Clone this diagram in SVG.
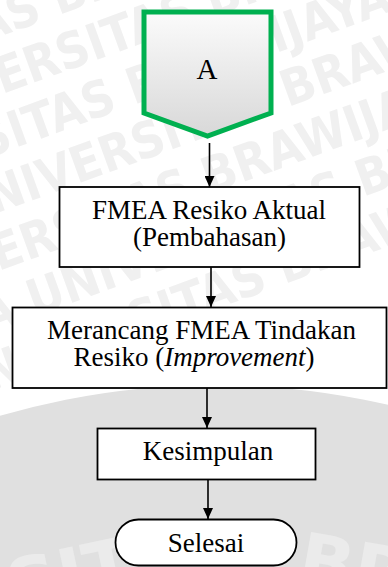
<svg xmlns="http://www.w3.org/2000/svg" width="388" height="567" viewBox="0 0 388 567">
  <defs>
    <linearGradient id="pentFill" x1="0" y1="0" x2="0" y2="1">
      <stop offset="0" stop-color="#fbfbfb"/>
      <stop offset="1" stop-color="#d8d8d8"/>
    </linearGradient>
    <marker id="arrowHead" viewBox="0 0 11 10" refX="11" refY="5" markerWidth="11" markerHeight="10" markerUnits="userSpaceOnUse" orient="auto">
      <path d="M0,0 L11,5 L0,10 z" fill="#000"/>
    </marker>
  </defs>
  <style>
    .box { fill: #ffffff; stroke: #000000; stroke-width: 1.8; }
    .lbl { font-family: "Liberation Serif", "Times New Roman", serif; font-size: 27px; fill: #000000; text-anchor: middle; }
    .conn { stroke: #000000; stroke-width: 1.6; fill: none; marker-end: url(#arrowHead); }
    .wm { font-family: "DejaVu Sans", sans-serif; font-weight: bold; font-stretch: condensed; font-size: 50px; fill: #f0f0f0; }
    .wm2 { font-family: "DejaVu Sans", sans-serif; font-weight: bold; font-size: 72px; fill: #ebebeb; }
  </style>

  <!-- page background with the faint university watermark -->
  <rect x="0" y="0" width="388" height="567" fill="#ffffff"/>
  <g id="watermark">
    <circle cx="215" cy="1150" r="765" fill="#e0e0e0"/>
    <g transform="rotate(-20 194 200)">
      <text class="wm" x="-220" y="-20">UNIVERSITAS BRAWIJAYA UNIVERSITAS</text>
      <text class="wm" x="-300" y="35">AWIJAYA UNIVERSITAS BRAWIJAYA UNI</text>
      <text class="wm" x="-180" y="90">UNIVERSITAS BRAWIJAYA UNIVERSITAS</text>
      <text class="wm" x="-260" y="145">AWIJAYA UNIVERSITAS BRAWIJAYA UNI</text>
      <text class="wm" x="-140" y="200">UNIVERSITAS BRAWIJAYA UNIVERSITAS</text>
      <text class="wm" x="-220" y="255">AWIJAYA UNIVERSITAS BRAWIJAYA UNI</text>
      <text class="wm" x="-100" y="310">UNIVERSITAS BRAWIJAYA UNIVERSITAS</text>
    </g>
    <text class="wm2" x="5" y="600" transform="rotate(-12 70 570)">SIT</text>
    <text class="wm2" x="300" y="590" transform="rotate(10 340 560)">BR</text>
  </g>

  <!-- connectors -->
  <g id="connectors">
    <line class="conn" x1="209.5" y1="143" x2="209.5" y2="187"/>
    <line class="conn" x1="211" y1="267" x2="211" y2="307"/>
    <line class="conn" x1="207" y1="388" x2="207" y2="428"/>
    <line class="conn" x1="208" y1="479" x2="208" y2="519"/>
  </g>

  <!-- off-page connector A -->
  <g id="node-a">
    <polygon points="144,12 271,12 271,113 207.5,136 144,113" fill="url(#pentFill)" stroke="#00b050" stroke-width="5" stroke-linejoin="miter"/>
    <text class="lbl" x="207" y="79" style="font-size:29px">A</text>
  </g>

  <g id="node-fmea-aktual">
    <rect class="box" x="59.5" y="187" width="300" height="80"/>
    <text class="lbl" x="209" y="218.5">FMEA Resiko Aktual</text>
    <text class="lbl" x="209.5" y="245.5">(Pembahasan)</text>
  </g>

  <g id="node-fmea-tindakan">
    <rect class="box" x="12.5" y="307.5" width="374" height="80.5"/>
    <text class="lbl" x="201.5" y="338.5">Merancang FMEA Tindakan</text>
    <text class="lbl" x="194" y="365.5">Resiko (<tspan font-style="italic">Improvement</tspan>)</text>
  </g>

  <g id="node-kesimpulan">
    <rect class="box" x="97.5" y="428.5" width="218" height="51"/>
    <text class="lbl" x="208" y="460">Kesimpulan</text>
  </g>

  <g id="node-selesai">
    <rect class="box" x="115.5" y="519.5" width="181" height="46" rx="23" ry="23"/>
    <text class="lbl" x="206" y="551.5">Selesai</text>
  </g>
</svg>
